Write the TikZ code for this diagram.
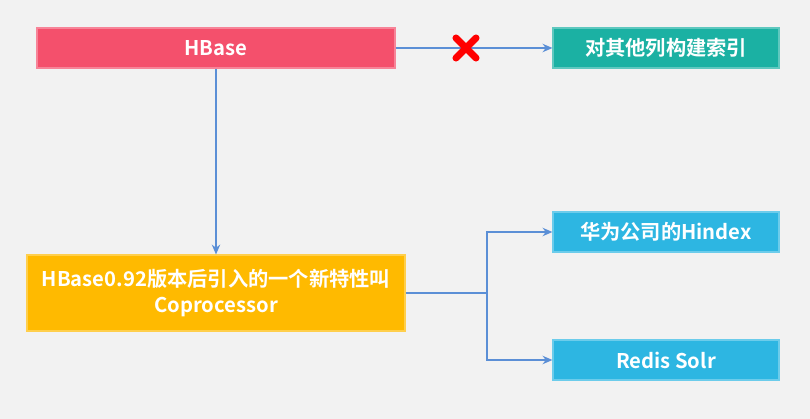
\documentclass[tikz,border=0pt]{standalone}
\usepackage{fontspec}
\setmainfont{Noto Sans CJK SC}[BoldFont={Noto Sans CJK SC Bold}]
\usetikzlibrary{arrows.meta}
\definecolor{bgc}{HTML}{F2F2F2}
\definecolor{hred}{HTML}{F4506C}
\definecolor{hteal}{HTML}{1BB1A3}
\definecolor{hyellow}{HTML}{FFBA00}
\definecolor{hblue}{HTML}{2DB6E2}
\definecolor{lineblue}{HTML}{5B8FD6}
\tikzset{
  box/.style={fill=#1, draw=#1!70!white, line width=0.8pt, text=white, font=\bfseries\Large, inner sep=0pt, align=center},
  link/.style={draw=lineblue, line width=1pt},
  arr/.style={link, -{Stealth[length=7pt, width=6pt]}}
}

\begin{document}
\begin{tikzpicture}[x=0.025cm, y=-0.025cm]
  \fill[bgc] (0,0) rectangle (810,419);
  \useasboundingbox (0,0) rectangle (810,419);

  \node[box=hred, minimum width=8.95cm, minimum height=1cm] (hbase) at (216,48) {HBase};
  \node[box=hteal, minimum width=5.65cm, minimum height=1cm] (index) at (666,48) {对其他列构建索引};
  \node[box=hyellow, minimum width=9.45cm, minimum height=1.9cm] (coproc) at (216,293)
    {HBase0.92版本后引入的一个新特性叫\\Coprocessor};
  \node[box=hblue, minimum width=5.65cm, minimum height=1cm] (hindex) at (666,232) {华为公司的Hindex};
  \node[box=hblue, minimum width=5.65cm, minimum height=1cm] (redis) at (666,360) {Redis Solr};

  \coordinate (fork) at (487,293);

  \draw[arr] (hbase) -- (index);
  \draw[arr] (hbase) -- (coproc);
  \draw[link] (coproc) -- (fork);
  \draw[arr] (fork) |- (hindex);
  \draw[arr] (fork) |- (redis);

  % red cross on the HBase link
  \draw[red, line width=5pt, line cap=round] (456,38) -- (476,58) (456,58) -- (476,38);
\end{tikzpicture}
\end{document}
